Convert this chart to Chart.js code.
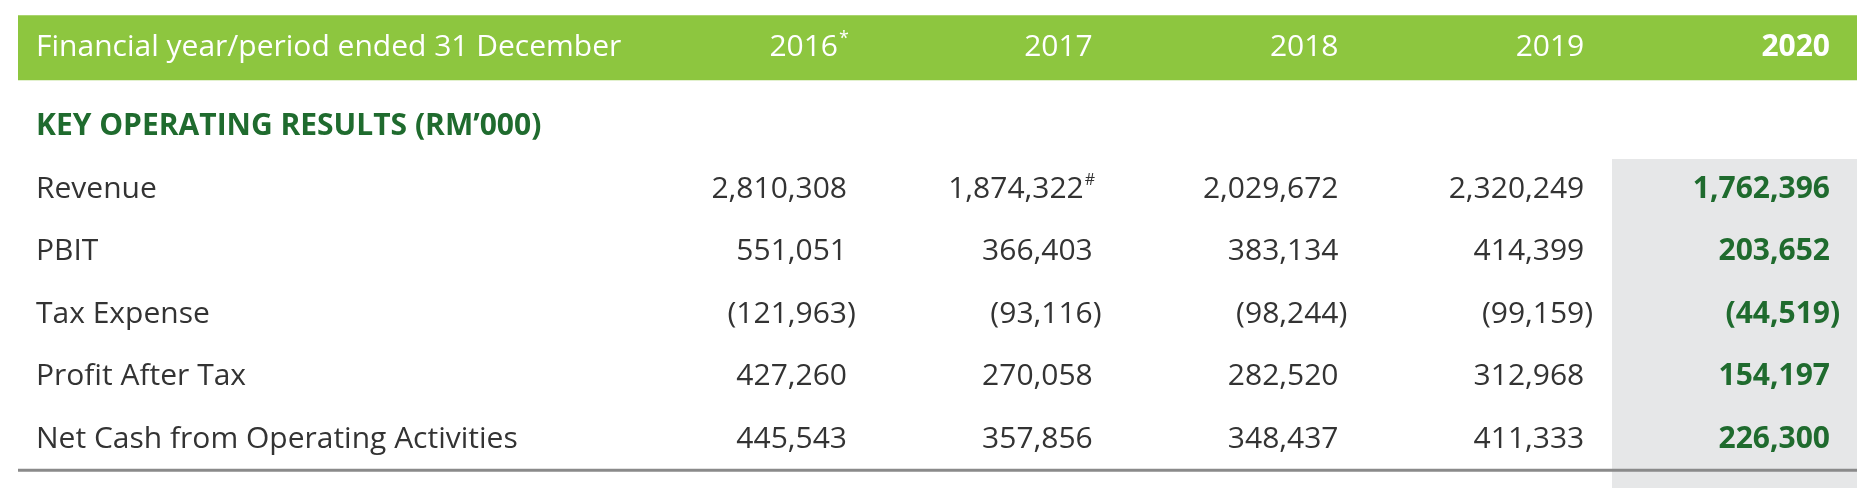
<!DOCTYPE html>
<html><head><meta charset="utf-8">
<script src="https://cdn.jsdelivr.net/npm/chart.js@4"></script>
<style>html,body{margin:0;padding:0;background:#fff}</style>
</head><body>
<canvas id="c" width="1875" height="488"></canvas>
<script>
const headerTitle = "Financial year/period ended 31 December";
const years = ["2016*", "2017", "2018", "2019", "2020"];
const sectionTitle = "KEY OPERATING RESULTS (RM\u2019000)";
const rowLabels = ["Revenue", "PBIT", "Tax Expense", "Profit After Tax", "Net Cash from Operating Activities"];
const revenue = ["2,810,308", "1,874,322#", "2,029,672", "2,320,249", "1,762,396"];
const pbit = ["551,051", "366,403", "383,134", "414,399", "203,652"];
const taxExpense = ["(121,963)", "(93,116)", "(98,244)", "(99,159)", "(44,519)"];
const profitAfterTax = ["427,260", "270,058", "282,520", "312,968", "154,197"];
const netCash = ["445,543", "357,856", "348,437", "411,333", "226,300"];
const tableRows = [revenue, pbit, taxExpense, profitAfterTax, netCash];

const FONT = '"Open Sans", "Noto Sans", sans-serif';
const FS = 30;
const tablePlugin = {
  id: 'table',
  beforeDatasetsDraw(chart) {
    const ctx = chart.ctx, xs = chart.scales.x, ys = chart.scales.y;
    const X = v => xs.getPixelForValue(v), Y = v => ys.getPixelForValue(v);
    ctx.save();
    ctx.fillStyle = '#8dc63f';
    ctx.fillRect(18, Y(-2.78), 1839, Y(-1.74) - Y(-2.78));
    ctx.fillStyle = '#e6e7e8';
    ctx.fillRect(X(4.113), Y(-0.48), X(5.11) - X(4.113), 488 - Y(-0.48));
    ctx.fillStyle = '#8a8a8a';
    ctx.fillRect(18, Y(4.5) - 1.5, 1839, 3);
    ctx.textBaseline = 'middle';
    ctx.fillStyle = '#ffffff';
    ctx.font = FS + 'px ' + FONT;
    ctx.textAlign = 'left';
    ctx.fillText(headerTitle, 36, Y(-2.27));
    years.forEach((y, i) => {
      ctx.font = (i === 4 ? 'bold ' : '') + FS + 'px ' + FONT;
      ctx.textAlign = 'right';
      let t = y, sup = '';
      if (y.endsWith('*')) { t = y.slice(0, -1); sup = '*'; }
      const xr = X(i + 1) - (sup ? 9 : 0);
      ctx.fillText(t, xr, Y(-2.27));
      if (sup) { ctx.textAlign = 'left'; ctx.font = '18px ' + FONT; ctx.fillText(sup, xr + 1, Y(-2.4)); }
    });
    ctx.fillStyle = '#1f6b2e';
    ctx.font = 'bold ' + FS + 'px ' + FONT;
    ctx.textAlign = 'left';
    ctx.fillText(sectionTitle, 36, Y(-1));
    rowLabels.forEach((lab, r) => {
      ctx.fillStyle = '#333333';
      ctx.font = FS + 'px ' + FONT;
      ctx.textAlign = 'left';
      ctx.fillText(lab, 36, Y(r));
      tableRows[r].forEach((v, i) => {
        const bold = i === 4;
        ctx.fillStyle = bold ? '#1f6b2e' : '#333333';
        ctx.font = (bold ? 'bold ' : '') + FS + 'px ' + FONT;
        let t = v, tail = '';
        if (v.endsWith(')')) { t = v.slice(0, -1); tail = ')'; }
        if (v.endsWith('#')) { t = v.slice(0, -1); }
        let xr = X(i + 1);
        if (v.endsWith('#')) xr -= 9;
        ctx.textAlign = 'right';
        ctx.fillText(t, xr, Y(r));
        ctx.textAlign = 'left';
        if (tail) ctx.fillText(tail, xr, Y(r));
        if (v.endsWith('#')) { ctx.font = '16px ' + FONT; ctx.fillText('#', xr + 1, Y(r) - 9); }
      });
    });
    ctx.restore();
  }
};

new Chart(document.getElementById('c'), {
  type: 'scatter',
  data: { datasets: [{ data: [], pointRadius: 0 }] },
  options: {
    responsive: false, animation: false, devicePixelRatio: 1,
    layout: { padding: 0 },
    plugins: { legend: { display: false }, tooltip: { enabled: false } },
    scales: {
      x: { type: 'linear', min: -2.4466, max: 5.1831, display: false },
      y: { type: 'linear', min: -3.024, max: 4.784, reverse: true, display: false }
    }
  },
  plugins: [tablePlugin]
});
</script>
</body></html>
